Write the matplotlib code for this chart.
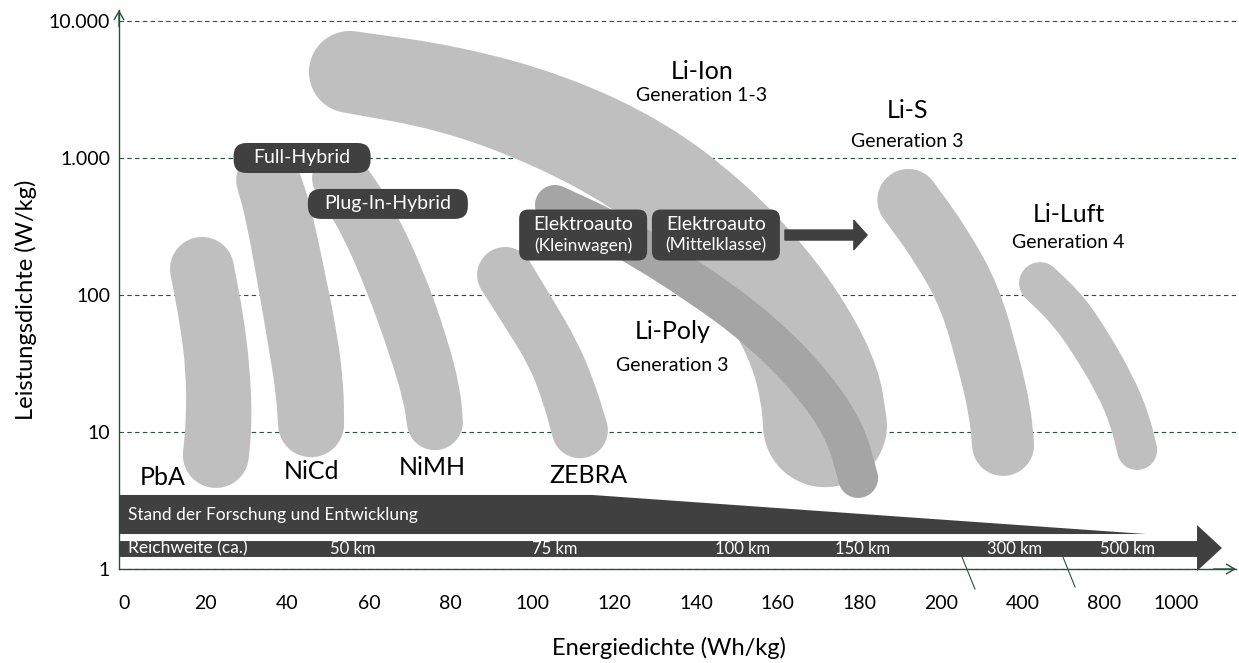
import numpy as np
import matplotlib.pyplot as plt
from matplotlib.patches import Polygon, FancyBboxPatch, PathPatch
from matplotlib.path import Path
from matplotlib.transforms import ScaledTranslation, IdentityTransform
from matplotlib.ticker import FixedLocator, FixedFormatter, NullLocator

plt.rcParams['font.family'] = ['Lato', 'DejaVu Sans']

# --- axes: energy density (broken scale) and power density (log) ---
tick_wh = [0, 20, 40, 60, 80, 100, 120, 140, 160, 180, 200, 400, 800, 1000]
tick_labels = ['0', '20', '40', '60', '80', '100', '120', '140', '160', '180',
               '200', '400', '800', '1000']
tick_pos = [0, 1, 2, 3, 4, 5, 6, 7, 8, 9, 10, 11, 12, 12.88]

y_ticks = [1, 10, 100, 1000, 10000]
y_labels = ['1', '10', '100', '1.000', '10.000']

# --- technology bands: centre line, energy (Wh/kg) / power (W/kg) ---
pba_wh = [19.1, 21.5, 23.0, 23.3, 22.5]
pba_w = [155, 65.7, 28.4, 12.2, 6.8]

nicd_wh = [35.3, 37.6, 40.6, 43.8, 45.5, 45.8]
nicd_w = [691, 420, 152, 47.0, 20.3, 11.4]

nimh_wh = [52.9, 59.5, 66.3, 72.0, 75.4, 76.1]
nimh_w = [714, 360, 129, 43.2, 18.6, 11.8]

zebra_wh = [93.3, 99.4, 105.0, 108.7, 111.6]
zebra_w = [140, 71.5, 37.7, 20.3, 10.3]

liion_wh = [55.3, 79.8, 104.3, 126.3, 143.5, 156.9, 165.5, 170.4, 171.6]
liion_w = [4246, 3243, 1893, 889, 353, 129, 51.1, 22.0, 11.2]

lipoly_wh = [105.5, 121.4, 141.0, 155.7, 167.9, 176.5, 179.7]
lipoly_w = [454, 274, 118, 55.5, 24.0, 10.3, 4.62]

lis_wh = [192, 200, 271, 315, 344, 352]
lis_w = [494, 232, 96.7, 33.5, 14.5, 8.04]

liluft_wh = [485, 622, 739, 830, 871, 891]
liluft_w = [122, 77.8, 43.2, 22.0, 12.2, 7.39]

# tech labels: (text, Wh/kg, W/kg)
tech_names = ['PbA', 'NiCd', 'NiMH', 'ZEBRA', 'Li-Ion', 'Li-S', 'Li-Luft', 'Li-Poly']
tech_x = [9.5, 46.0, 75.4, 113.6, 141.5, 191.7, 627, 134.2]
tech_y = [4.62, 5.19, 5.55, 4.85, 4246, 2240, 390, 53.7]

gen_names = ['Generation 1-3', 'Generation 3', 'Generation 4', 'Generation 3']
gen_x = [141.5, 191.7, 622, 134.2]
gen_y = [2836, 1309, 240, 30.8]

# vehicle classes
hybrid_names = ['Full-Hybrid', 'Plug-In-Hybrid']
hybrid_x = [43.6, 64.6]
hybrid_y = [1000, 462]

ev_names = [('Elektroauto', '(Kleinwagen)'), ('Elektroauto', '(Mittelklasse)')]
ev_x = [112.4, 144.9]
ev_y = [274, 274]

# range along the energy axis
reach_labels = ['50 km', '75 km', '100 km', '150 km', '300 km', '500 km']
reach_wh = [56.1, 105.5, 151.3, 180.7, 381, 863]

GREEN = '#24553a'
LIGHT = '#bfbfbf'
DARK = '#a5a5a5'
BOX = '#404040'

fig = plt.figure(figsize=(12.39, 6.63), dpi=100)
ax = fig.add_axes([119 / 1239, 94 / 663, 1117 / 1239, 559 / 663])

xp = np.array([-100] + tick_wh + [2000], dtype=float)
fp = np.array([-5] + tick_pos + [12.88 + 1000 * 0.88 / 200])


def fwd(x):
    return np.interp(x, xp, fp)


def inv(p):
    return np.interp(p, fp, xp)


ax.set_xscale('function', functions=(fwd, inv))
ax.set_yscale('log')
xmin, xmax = -1.22, 1166
ax.set_xlim(xmin, xmax)
ax.set_ylim(1, 12030)

ax.xaxis.set_major_locator(FixedLocator(tick_wh))
ax.xaxis.set_major_formatter(FixedFormatter(tick_labels))
ax.xaxis.set_minor_locator(NullLocator())
ax.yaxis.set_major_locator(FixedLocator(y_ticks))
ax.yaxis.set_major_formatter(FixedFormatter(y_labels))
ax.yaxis.set_minor_locator(NullLocator())
ax.tick_params(axis='x', length=0, pad=19, labelsize=14)
ax.tick_params(axis='y', length=0, pad=6.5, labelsize=14)

for s in ['top', 'right']:
    ax.spines[s].set_visible(False)
for s in ['left', 'bottom']:
    ax.spines[s].set_color(GREEN)
    ax.spines[s].set_linewidth(1.0)

ax.set_axisbelow(True)
ax.grid(axis='y', which='major', color=GREEN, linestyle=(0, (4, 3)), lw=0.8)

# axis arrow heads
ax.annotate('', xy=(0, 1.0), xytext=(0, 0.97), xycoords='axes fraction',
            arrowprops=dict(arrowstyle='->,head_length=0.6,head_width=0.35',
                            color=GREEN, lw=1, shrinkA=0, shrinkB=0))
ax.annotate('', xy=(1.0, 0), xytext=(0.98, 0), xycoords='axes fraction',
            arrowprops=dict(arrowstyle='->,head_length=0.6,head_width=0.35',
                            color=GREEN, lw=1, shrinkA=0, shrinkB=0))
# axis break marks
for x0, x1, y1 in [(0.7547, 0.7663, -0.0358), (0.8451, 0.8559, -0.0322)]:
    ax.plot([x0, x1], [0.0215, y1], transform=ax.transAxes, color=GREEN,
            lw=0.8, clip_on=False, zorder=3)


def smooth_edge(pts):
    # quadratic bezier through the midpoints, nodes act as control points
    verts = [pts[0], (pts[0] + pts[1]) / 2]
    codes = [Path.LINETO, Path.LINETO]
    for i in range(1, len(pts) - 1):
        verts += [pts[i], (pts[i] + pts[i + 1]) / 2]
        codes += [Path.CURVE3, Path.CURVE3]
    verts.append(pts[-1])
    codes.append(Path.LINETO)
    return verts, codes


def draw_band(xs, ys, widths, color, z):
    # thick rounded stroke of varying width, built in pixel space
    p = ax.transData.transform(np.column_stack([xs, ys]))
    r = np.asarray(widths, dtype=float) / 2
    t = np.gradient(p, axis=0)
    t /= np.linalg.norm(t, axis=1)[:, None]
    n = np.column_stack([-t[:, 1], t[:, 0]])
    left = p + n * r[:, None]
    right = p - n * r[:, None]

    verts, codes = smooth_edge(left)
    codes[0] = Path.MOVETO
    th = np.linspace(0, np.pi, 25)[1:-1]
    for a in th:
        verts.append(p[-1] + r[-1] * (n[-1] * np.cos(a) + t[-1] * np.sin(a)))
        codes.append(Path.LINETO)
    v2, c2 = smooth_edge(right[::-1])
    verts += v2
    codes += c2
    for a in th:
        verts.append(p[0] + r[0] * (-n[0] * np.cos(a) - t[0] * np.sin(a)))
        codes.append(Path.LINETO)
    verts.append(left[0])
    codes.append(Path.CLOSEPOLY)
    ax.add_patch(PathPatch(Path(np.array(verts), codes), fc=color, ec='none',
                           transform=IdentityTransform(), zorder=z))


draw_band(pba_wh, pba_w, [64, 64, 64, 66, 66], LIGHT, 2)
draw_band(nicd_wh, nicd_w, [64, 66, 68, 70, 68, 66], LIGHT, 2)
draw_band(nimh_wh, nimh_w, [56, 58, 60, 60, 58, 56], LIGHT, 2)
draw_band(zebra_wh, zebra_w, [56, 55, 54, 55, 56], LIGHT, 2)
draw_band(liion_wh, liion_w, [82, 86, 95, 100, 102, 105, 112, 122, 124], LIGHT, 2)
draw_band(lipoly_wh, lipoly_w, [40, 40, 40, 40, 40, 40, 40], DARK, 2.1)
draw_band(lis_wh, lis_w, [62, 62, 62, 62, 62, 62], LIGHT, 2)
draw_band(liluft_wh, liluft_w, [42, 42, 41, 40, 40, 40], LIGHT, 2)

for name, x, y in zip(tech_names, tech_x, tech_y):
    ax.text(x, y, name, fontsize=18, ha='center', va='center', zorder=6)
for name, x, y in zip(gen_names, gen_x, gen_y):
    ax.text(x, y, name, fontsize=14, ha='center', va='center', zorder=6)


def dark_box(x, y, w, h, r):
    tr = fig.dpi_scale_trans + ScaledTranslation(x, y, ax.transData)
    box = FancyBboxPatch((-w / 200, -h / 200), w / 100, h / 100,
                         boxstyle=f'round,pad=0,rounding_size={r / 100}',
                         transform=tr, fc=BOX, ec='none', zorder=5)
    ax.add_patch(box)


for name, x, y, w in zip(hybrid_names, hybrid_x, hybrid_y, [137, 160]):
    dark_box(x, y, w, 30, 13)
    ax.text(x, y, name, color='white', fontsize=14, ha='center', va='center',
            zorder=6)

for (l1, l2), x, y in zip(ev_names, ev_x, ev_y):
    dark_box(x, y, 128, 51, 9)
    ax.annotate(l1, xy=(x, y), xytext=(0, 7.5), textcoords='offset points',
                color='white', fontsize=14, ha='center', va='center', zorder=6)
    ax.annotate(l2, xy=(x, y), xytext=(0, -7.5), textcoords='offset points',
                color='white', fontsize=12.5, ha='center', va='center', zorder=6)

ax.annotate('', xy=(181.9, 274), xytext=(161.8, 274),
            arrowprops=dict(arrowstyle='simple,head_length=0.95,head_width=2.1,tail_width=0.72',
                            color=BOX, mutation_scale=10, shrinkA=0, shrinkB=0),
            zorder=5)

# research status wedge
stand = Polygon([(xmin, 3.47), (114.6, 3.47), (916, 1.80), (xmin, 1.80)],
                closed=True, fc=BOX, ec='none', zorder=4)
ax.add_patch(stand)
ax.text(0.98, 2.48, 'Stand der Forschung und Entwicklung', color='white',
        fontsize=12.5, ha='left', va='center', zorder=6)

# range arrow
reach = Polygon([(xmin, 1.224), (1057.6, 1.224), (1057.6, 0.967), (1127, 1.423),
                 (1057.6, 2.094), (1057.6, 1.60), (xmin, 1.60)],
                closed=True, fc=BOX, ec='none', zorder=4, clip_on=False)
ax.add_patch(reach)
ax.text(0.98, 1.41, 'Reichweite (ca.)', color='white', fontsize=12.5,
        ha='left', va='center', zorder=6)
for lab, x in zip(reach_labels, reach_wh):
    ax.text(x, 1.41, lab, color='white', fontsize=12, ha='center',
            va='center', zorder=6)

fig.text(669 / 1239, 1 - 648 / 663, 'Energiedichte (Wh/kg)', fontsize=17,
         ha='center', va='center')
fig.text(26 / 1239, 1 - 300 / 663, 'Leistungsdichte (W/kg)', fontsize=17,
         ha='center', va='center', rotation=90)

fig.savefig('out.png', dpi=100)
